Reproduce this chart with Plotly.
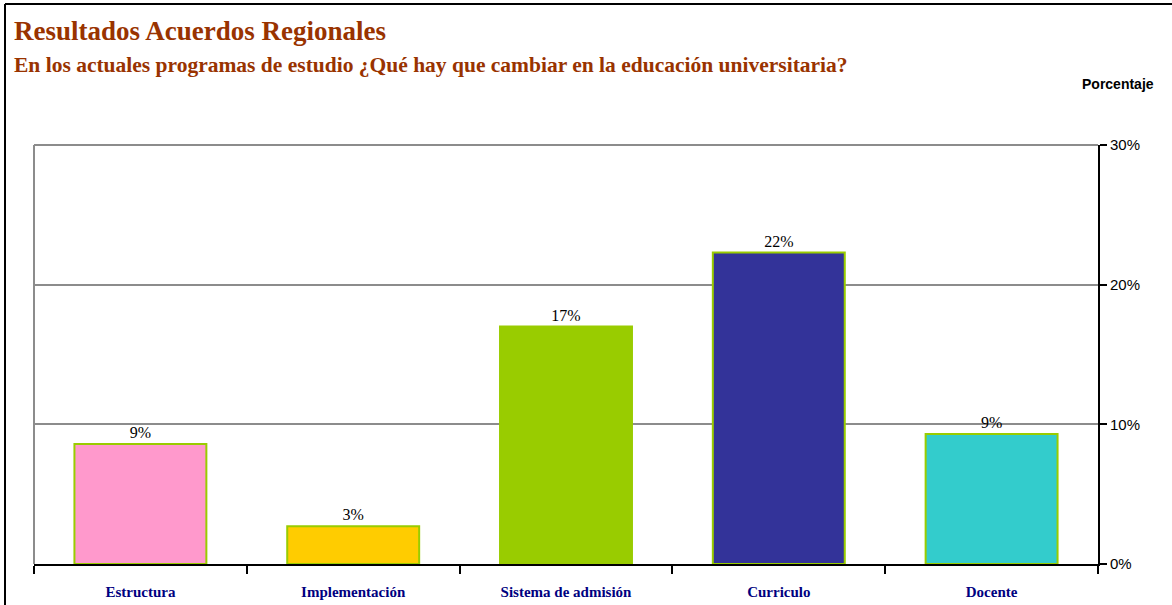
import plotly.graph_objects as go

categories = ["Estructura", "Implementación", "Sistema de admisión", "Curriculo", "Docente"]
values = [8.6, 2.7, 17.0, 22.3, 9.3]
bar_colors = ["#FF99CC", "#FFCC00", "#99CC00", "#333399", "#33CCCC"]
y_ticks = [0, 10, 20, 30]
y_tick_labels = ["0%", "10%", "20%", "30%"]

W, H = 1172, 605
L, R, T, B = 34, 1098, 145, 564

def px(x):
    return (x - L) / (R - L)

def py(y):
    return (B - y) / (B - T)

fig = go.Figure(go.Bar(
    x=categories, y=values,
    marker=dict(color=bar_colors, line=dict(color="#99CC00", width=2)),
    texttemplate="%{y:.0f}%", textposition="outside", cliponaxis=False,
    textfont=dict(family="Liberation Serif", size=16, color="black"),
    width=0.62,
))

fig.update_layout(
    width=W, height=H,
    margin=dict(l=L, r=W - R, t=T, b=H - B, autoexpand=False),
    paper_bgcolor="white", plot_bgcolor="white",
    showlegend=False,
    xaxis=dict(
        showline=True, linecolor="black", linewidth=2,
        ticks="outside", tickson="boundaries", ticklen=8, tickwidth=2, tickcolor="black",
        tickfont=dict(family="Liberation Serif", size=15, color="#000080", weight="bold"),
        ticklabelstandoff=13, showgrid=False,
    ),
    yaxis=dict(
        side="right", range=[0, 30], tickmode="array", tickvals=y_ticks, ticktext=y_tick_labels,
        showline=True, linecolor="black", linewidth=2,
        ticks="outside", ticklen=7, tickwidth=2, tickcolor="black",
        tickfont=dict(family="Liberation Sans", size=15, color="black"),
        showgrid=True, gridcolor="#8C8C8C", gridwidth=2, zeroline=False,
    ),
    annotations=[
        dict(text="<b>Resultados Acuerdos Regionales</b>", xref="paper", yref="paper",
             x=px(12), y=py(31), xanchor="left", yanchor="middle", showarrow=False,
             font=dict(family="Liberation Serif", size=27, color="#993300")),
        dict(text="<b>En los actuales programas de estudio ¿Qué hay que cambiar en la educación universitaria?</b>",
             xref="paper", yref="paper",
             x=px(12), y=py(65), xanchor="left", yanchor="middle", showarrow=False,
             font=dict(family="Liberation Serif", size=21.5, color="#993300")),
        dict(text="<b>Porcentaje</b>", xref="paper", yref="paper",
             x=px(1156), y=py(84), xanchor="right", yanchor="middle", showarrow=False,
             font=dict(family="Liberation Sans", size=14, color="black")),
    ],
    shapes=[
        dict(type="line", xref="paper", yref="paper", x0=0, x1=0, y0=0, y1=1,
             line=dict(color="#8C8C8C", width=2)),
        dict(type="line", xref="paper", yref="paper", x0=0, x1=1, y0=1, y1=1,
             line=dict(color="#8C8C8C", width=2)),
        dict(type="line", xref="paper", yref="paper", x0=px(5), x1=px(5), y0=py(4), y1=py(620),
             line=dict(color="black", width=2)),
        dict(type="line", xref="paper", yref="paper", x0=px(5), x1=px(1200), y0=py(4), y1=py(4),
             line=dict(color="black", width=2)),
    ],
)

fig.write_html("out.html", config={"displayModeBar": False},
               post_script="document.body.style.margin='0';document.body.style.overflow='hidden';")
